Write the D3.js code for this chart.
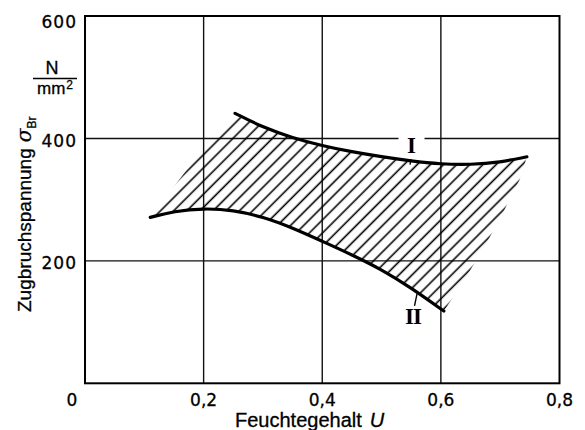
<!DOCTYPE html>
<html>
<head>
<meta charset="utf-8">
<script src="https://cdn.jsdelivr.net/npm/d3@7/dist/d3.min.js"></script>
<style>
  html, body { margin: 0; padding: 0; background: #fff; }
  svg { display: block; }
</style>
</head>
<body>
<svg id="chart" width="585" height="430"></svg>
<script>
// ---------- data ----------
const xTicks = [0.2, 0.4, 0.6];
const yTicks = [200, 400];
const xTickLabels = ["0", "0,2", "0,4", "0,6", "0,8"];
const xTickValues = [0, 0.2, 0.4, 0.6, 0.8];
const yTickLabels = ["200", "400", "600"];
const yTickValues = [200, 400, 600];

// curve I (upper boundary)
const curveI_u = [0.253, 0.30, 0.35, 0.40, 0.45, 0.50, 0.55, 0.60, 0.65, 0.70, 0.745];
const curveI_s = [441, 418, 401, 388, 378, 370, 363, 358, 357, 361, 370];
// curve II (lower boundary)
const curveII_u = [0.11, 0.15, 0.20, 0.25, 0.30, 0.35, 0.40, 0.45, 0.50, 0.55, 0.605];
const curveII_s = [271, 281, 286, 283, 272, 254, 232, 210, 186, 156, 118];
// ragged ends of the hatched band
const leftEdge_u = [0.17];
const leftEdge_s = [347];
const rightEdge_u = [0.733, 0.706, 0.674, 0.632];
const rightEdge_s = [333, 281, 224, 157];

// curve labels
const labelNames = ["I", "II"];
const labelU = [0.5505, 0.553];
const labelS = [389, 110];

// ---------- layout ----------
const svg = d3.select("#chart");
const x = d3.scaleLinear().domain([0, 0.8]).range([85, 559.5]);
const y = d3.scaleLinear().domain([0, 600]).range([383.3, 16]);

const zip = (us, ss) => us.map((u, i) => [u, ss[i]]);
const ptsI = zip(curveI_u, curveI_s);
const ptsII = zip(curveII_u, curveII_s);

svg.append("rect").attr("width", 585).attr("height", 430).attr("fill", "#fff");

// hatch pattern
const defs = svg.append("defs");
const pat = defs.append("pattern")
  .attr("id", "hatch")
  .attr("patternUnits", "userSpaceOnUse")
  .attr("width", 9.3).attr("height", 9.3)
  .attr("patternTransform", "rotate(45)");
pat.append("line")
  .attr("x1", 2.2).attr("y1", -1).attr("x2", 2.2).attr("y2", 10.5)
  .attr("stroke", "#000").attr("stroke-width", 1.6);

// grid
const grid = svg.append("g").attr("stroke", "#111").attr("stroke-width", 1.4);
grid.selectAll("line.v").data(xTicks).join("line")
  .attr("x1", d => x(d)).attr("x2", d => x(d))
  .attr("y1", y(600)).attr("y2", y(0));
grid.selectAll("line.h").data(yTicks).join("line")
  .attr("x1", x(0)).attr("x2", x(0.8))
  .attr("y1", d => y(d)).attr("y2", d => y(d));

// hatched band
const line = d3.line().x(d => x(d[0])).y(d => y(d[1])).curve(d3.curveBasis);
const smoothI = line(ptsI);
const smoothII = line(ptsII.slice().reverse());
const rightPts = zip(rightEdge_u, rightEdge_s);
const leftPts = zip(leftEdge_u, leftEdge_s);
const bandPath = smoothI
  + rightPts.map(p => "L" + x(p[0]) + "," + y(p[1])).join("")
  + "L" + x(ptsII[ptsII.length - 1][0]) + "," + y(ptsII[ptsII.length - 1][1])
  + smoothII.replace(/^M/, "L")
  + leftPts.map(p => "L" + x(p[0]) + "," + y(p[1])).join("")
  + "Z";
svg.append("path").attr("d", bandPath).attr("fill", "url(#hatch)").attr("stroke", "none");

// boundary curves
svg.append("path").attr("d", line(ptsI)).attr("fill", "none")
  .attr("stroke", "#000").attr("stroke-width", 3.2).attr("stroke-linecap", "round");
svg.append("path").attr("d", line(ptsII)).attr("fill", "none")
  .attr("stroke", "#000").attr("stroke-width", 3.2).attr("stroke-linecap", "round");

// frame
svg.append("rect")
  .attr("x", x(0)).attr("y", y(600))
  .attr("width", x(0.8) - x(0)).attr("height", y(0) - y(600))
  .attr("fill", "none").attr("stroke", "#000").attr("stroke-width", 2);

// curve labels (with gap in the grid line behind "I")
const lab = svg.append("g");
labelNames.forEach((name, i) => {
  const cx = x(labelU[i]), cy = y(labelS[i]);
  if (i === 0) {
    lab.append("rect").attr("x", cx - 13).attr("y", cy - 11).attr("width", 26).attr("height", 8).attr("fill", "#fff");
  }
  lab.append("text")
    .attr("x", cx).attr("y", cy + 8)
    .attr("text-anchor", "middle")
    .attr("font-family", "Liberation Serif, DejaVu Serif, serif")
    .attr("font-weight", "bold")
    .attr("font-size", 23)
    .attr("letter-spacing", i === 1 ? -1 : 0)
    .text(name);
});
// leader lines
lab.append("line")
  .attr("x1", x(labelU[0]) - 0.5).attr("y1", y(labelS[0]) + 14)
  .attr("x2", x(labelU[0]) - 1.5).attr("y2", y(labelS[0]) + 19.5)
  .attr("stroke", "#000").attr("stroke-width", 1.4);
lab.append("line")
  .attr("x1", x(labelU[1]) + 1.5).attr("y1", y(labelS[1]) - 10)
  .attr("x2", x(labelU[1]) + 4).attr("y2", y(labelS[1]) - 22)
  .attr("stroke", "#000").attr("stroke-width", 1.4);

// tick labels
const tickFont = "DejaVu Sans, Liberation Sans, sans-serif";
svg.append("g").selectAll("text").data(xTickValues).join("text")
  .attr("x", (d, i) => x(d) + (i === 0 ? -13 : 0))
  .attr("y", 405.5)
  .attr("text-anchor", "middle")
  .attr("font-family", tickFont).attr("font-size", 17)
  .attr("fill", "#000").attr("stroke", "#000").attr("stroke-width", 0.3)
  .text((d, i) => xTickLabels[i]);
svg.append("g").selectAll("text").data(yTickValues).join("text")
  .attr("x", 77)
  .attr("y", d => y(d) + (d === 600 ? 11.5 : 8.3))
  .attr("text-anchor", "end")
  .attr("font-family", tickFont).attr("font-size", 17)
  .attr("letter-spacing", 1)
  .attr("fill", "#000").attr("stroke", "#000").attr("stroke-width", 0.3)
  .text((d, i) => yTickLabels[i]);

// x title
const xt = svg.append("text")
  .attr("x", 235).attr("y", 427)
  .attr("font-family", "Liberation Sans, Arial, sans-serif")
  .attr("font-size", 20).attr("fill", "#000").attr("stroke", "#000").attr("stroke-width", 0.3);
xt.append("tspan").text("Feuchtegehalt");
xt.append("tspan").attr("dx", 8).attr("font-style", "italic").text("U");

// y title
const yt = svg.append("text")
  .attr("transform", "translate(31,312) rotate(-90)")
  .attr("font-family", "Liberation Sans, Arial, sans-serif")
  .attr("font-size", 19).attr("fill", "#000").attr("stroke", "#000").attr("stroke-width", 0.3);
yt.append("tspan").text("Zugbruchspannung");
yt.append("tspan").attr("dx", 6).attr("font-style", "italic").attr("font-family", "DejaVu Serif, serif").attr("font-size", 20).text("σ");
yt.append("tspan").attr("dy", 5).attr("font-size", 12).text("Br");

// unit fraction
svg.append("text").attr("x", 52).attr("y", 74)
  .attr("text-anchor", "middle")
  .attr("font-family", "Liberation Sans, Arial, sans-serif").attr("font-size", 18)
  .attr("stroke", "#000").attr("stroke-width", 0.3)
  .text("N");
svg.append("line").attr("x1", 33).attr("x2", 77).attr("y1", 78.5).attr("y2", 78.5)
  .attr("stroke", "#000").attr("stroke-width", 1.6);
const mm = svg.append("text").attr("x", 37).attr("y", 93.5)
  .attr("font-family", "Liberation Sans, Arial, sans-serif").attr("font-size", 17)
  .attr("stroke", "#000").attr("stroke-width", 0.3);
mm.append("tspan").text("mm");
mm.append("tspan").attr("dx", 1).attr("dy", -5).attr("font-size", 12).text("2");
</script>
</body>
</html>
